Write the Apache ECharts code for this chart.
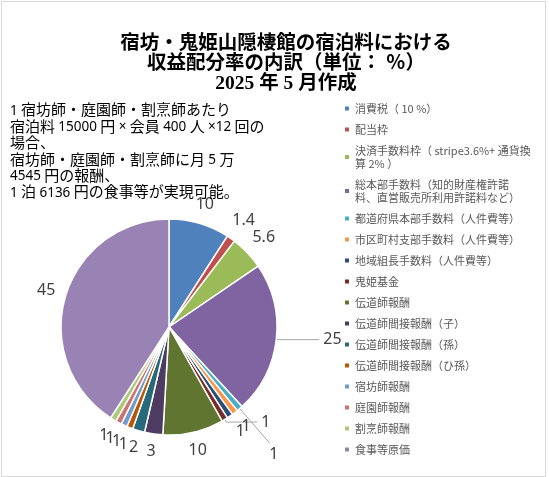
<!DOCTYPE html>
<html>
<head>
<meta charset="utf-8">
<script src="https://cdn.jsdelivr.net/npm/echarts@6/dist/echarts.min.js"></script>
<style>
  html, body { margin: 0; padding: 0; background: #ffffff; }
  #wrap { position: relative; width: 549px; height: 477px; }
  #chart { position: absolute; left: 0; top: 0; width: 549px; height: 477px; }
  #frame { position: absolute; left: 1px; top: 1px; width: 543px; height: 474px; border: 1px solid #d9d9d9; pointer-events: none; }
</style>
</head>
<body>
<div id="wrap"><div id="chart"></div><div id="frame"></div></div>
<script>
// ---- data ----
const categories = [
  '消費税（ 10 %）',
  '配当枠',
  '決済手数料枠（ stripe3.6%+ 通貨換算 2% ）',
  '総本部手数料（知的財産権許諾料、直営販売所利用許諾料など）',
  '都道府県本部手数料（人件費等）',
  '市区町村支部手数料（人件費等）',
  '地域組長手数料（人件費等）',
  '鬼姫基金',
  '伝道師報酬',
  '伝道師間接報酬（子）',
  '伝道師間接報酬（孫）',
  '伝道師間接報酬（ひ孫）',
  '宿坊師報酬',
  '庭園師報酬',
  '割烹師報酬',
  '食事等原価'
];
const values = [10, 1.4, 5.6, 25, 1, 1, 1, 1, 10, 3, 2, 1, 1, 1, 1, 45];
const titleLines = [
  '宿坊・鬼姫山隠棲館の宿泊料における',
  '収益配分率の内訳（単位： ％）',
  '2025 年 5 月作成'
];
const noteLines = [
  '1 宿坊師・庭園師・割烹師あたり',
  '宿泊料 15000 円 × 会員 400 人 ×12 回の',
  '場合、',
  '宿坊師・庭園師・割烹師に月 5 万',
  '4545 円の報酬、',
  '1 泊 6136 円の食事等が実現可能。'
];
// legend wrapping (display only)
const legendWrap = {
  '決済手数料枠（ stripe3.6%+ 通貨換算 2% ）': '決済手数料枠（ stripe3.6%+ 通貨換\n算 2% ）',
  '総本部手数料（知的財産権許諾料、直営販売所利用許諾料など）': '総本部手数料（知的財産権許諾\n料、直営販売所利用許諾料など）'
};

// ---- styles ----
const colors = ['#4F81BD','#C0504D','#9BBB59','#8064A2','#4BACC6','#F79646','#2C4D75','#772C2A',
                '#5F7530','#4D3B62','#276A7C','#B65708','#729ACA','#CD7371','#AFC97A','#9983B5'];
const CX = 169, CY = 327, R = 108, GAP = 9;
const lineCfg = {
  3: { show: true, length: 3, length2: 40 },
  4: { show: true, length: 46, length2: 0 },
  7: { show: true, length: 3, length2: 31 }
};

const total = values.reduce((a, b) => a + b, 0);
const midAngles = [];
let acc = 0;
values.forEach(v => { midAngles.push((acc + v / 2) / total * Math.PI * 2); acc += v; });

const data = categories.map((name, i) => {
  const item = { name: name, value: values[i] };
  if (lineCfg[i]) item.labelLine = lineCfg[i];
  return item;
});

// note text: latin runs drawn slightly smaller (as in the reference's font)
const noteRich = noteLines.map(l => l.replace(/([0-9×]+)/g, '{d|$1}')).join('\n');

const chart = echarts.init(document.getElementById('chart'), null, { renderer: 'canvas' });
chart.setOption({
  color: colors,
  animation: false,
  title: [{
    text: titleLines.join('\n'),
    left: 281,
    textAlign: 'center',
    top: 29,
    textStyle: {
      fontFamily: '"Liberation Serif", "Noto Sans CJK JP", serif',
      fontWeight: 'bold',
      fontSize: 19.5,
      lineHeight: 20,
      color: '#000000'
    }
  }, {
    text: noteRich,
    left: 10,
    top: 101.5,
    padding: 0,
    textStyle: {
      fontFamily: '"Noto Sans CJK JP", sans-serif',
      fontWeight: 'normal',
      fontSize: 15,
      lineHeight: 16.4,
      color: '#000000',
      rich: {
        d: {
          fontFamily: '"Noto Sans", sans-serif',
          fontSize: 13.5,
          lineHeight: 14,
          verticalAlign: 'bottom',
          color: '#000000'
        }
      }
    }
  }],
  legend: {
    orient: 'vertical',
    left: 343,
    top: 102,
    padding: 0,
    itemWidth: 6,
    itemHeight: 6,
    itemGap: 8,
    icon: 'rect',
    data: categories,
    formatter: name => legendWrap[name] || name,
    textStyle: {
      fontFamily: '"Noto Sans CJK JP", sans-serif',
      fontSize: 11,
      lineHeight: 13,
      color: '#595959',
      padding: [0, 0, 0, 0]
    }
  },
  series: [{
    type: 'pie',
    center: [CX, CY],
    radius: R,
    startAngle: 90,
    clockwise: true,
    avoidLabelOverlap: false,
    data: data,
    itemStyle: { borderColor: '#ffffff', borderWidth: 1.5 },
    emphasis: { disabled: true },
    label: {
      show: true,
      position: 'outside',
      formatter: '{c}',
      fontFamily: '"Noto Sans", sans-serif',
      fontSize: 16,
      color: '#404040',
      distanceToLabelLine: 4
    },
    labelLine: {
      show: false,
      length: 4,
      length2: 0,
      smooth: false,
      lineStyle: { color: '#a6a6a6', width: 1 }
    },
    labelLayout: function (p) {
      const i = p.dataIndex;
      const pts = p.labelLinePoints;
      if (i === 3 || i === 7) return;
      if (i === 4 && pts) {
        const end = pts[pts.length - 1];
        return { x: end[0] + 4, y: end[1] + 11, align: 'center', verticalAlign: 'middle', labelLinePoints: pts };
      }
      const a = midAngles[i];
      const dx = Math.sin(a), dy = -Math.cos(a);
      const w = p.labelRect.width, h = p.labelRect.height;
      const ext = Math.abs(dx) * w / 2 + Math.abs(dy) * h / 2;
      const d = R + GAP + ext;
      return { x: CX + dx * d, y: CY + dy * d, align: 'center', verticalAlign: 'middle' };
    }
  }]
});
</script>
</body>
</html>
